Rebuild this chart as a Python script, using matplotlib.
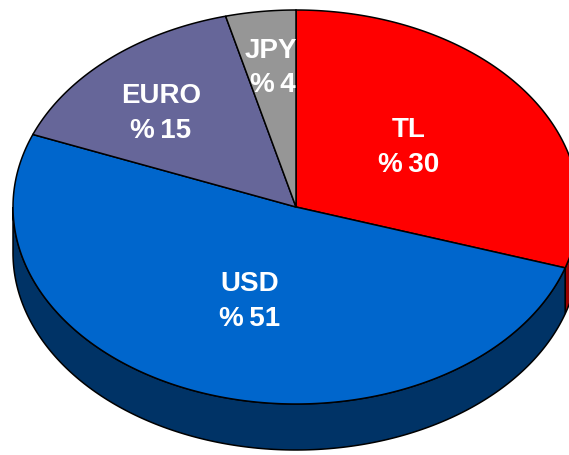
import numpy as np
import matplotlib
matplotlib.use('Agg')
from matplotlib import pyplot as plt
from matplotlib.patches import Polygon

# currency shares (%)
labels = ['TL', 'USD', 'EURO', 'JPY']
shares = [30, 51, 15, 4]
top_colors = ['#ff0000', '#0066cc', '#666699', '#969696']
side_colors = ['#990000', '#003366', '#333366', '#4b4b4b']
label_pos = [(409, 147.5), (250, 301.5), (161, 114), (271, 68)]

W, H = 569, 456
cx, cy = 296, 208
rx, ry = 283, 197
depth = 46


def pt(t, dy=0.0):
    t = np.radians(t)
    return np.column_stack([cx + rx * np.cos(t), cy - ry * np.sin(t) + dy])


fig = plt.figure(figsize=(W / 100, H / 100), dpi=100)
ax = fig.add_axes([0, 0, 1, 1])
ax.set_xlim(0, W)
ax.set_ylim(H, 0)
ax.axis('off')

# slice angle ranges, clockwise from 12 o'clock
bounds = 90 - 360 * np.concatenate([[0], np.cumsum(shares)]) / 100.0

# front walls first
for i in range(len(shares)):
    a1, a2 = bounds[i], bounds[i + 1]
    for lo, hi in [(-180, 0), (-540, -360)]:
        s, e = min(a1, hi), max(a2, lo)
        if s <= e:
            continue
        t = np.linspace(s, e, 200)
        poly = np.vstack([pt(t), pt(t[::-1], depth)])
        ax.add_patch(Polygon(poly, closed=True, fc=side_colors[i], ec='black', lw=1.1, zorder=1))

# top faces
for i in range(len(shares)):
    a1, a2 = bounds[i], bounds[i + 1]
    t = np.linspace(a1, a2, 300)
    poly = np.vstack([[cx, cy], pt(t)])
    ax.add_patch(Polygon(poly, closed=True, fc=top_colors[i], ec='black', lw=1.1,
                         joinstyle='miter', zorder=2))

font = dict(ha='center', va='center', color='white', fontsize=20, fontweight='bold',
            family=['Liberation Sans', 'DejaVu Sans'], zorder=3)
for lab, val, (x, y) in zip(labels, shares, label_pos):
    ax.text(x, y - 17.5, lab, **font)
    ax.text(x + (2 if lab == 'JPY' else 0), y + 17.5, '%\u2009' + str(val), **font)

fig.savefig('out.png', dpi=100)
